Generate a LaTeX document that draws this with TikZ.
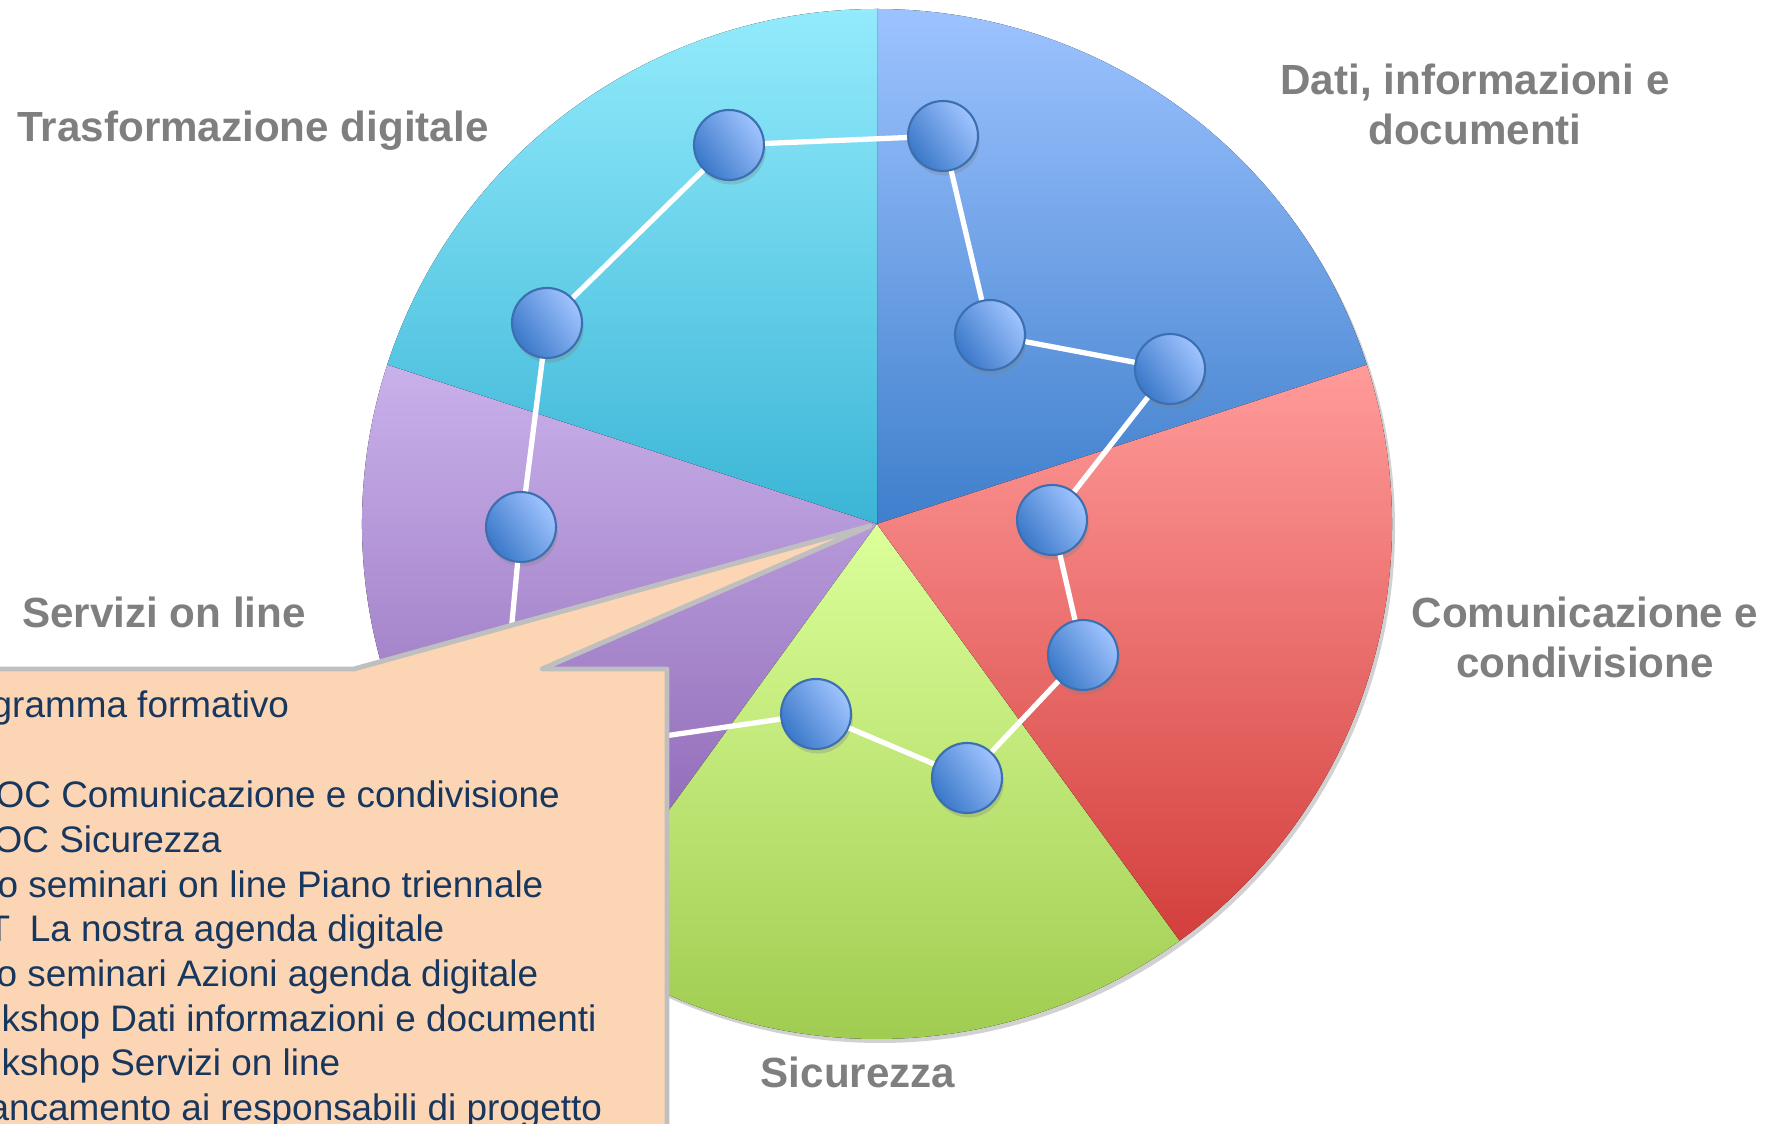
\documentclass[tikz,border=0pt]{standalone}
\usepackage{fontspec}
\setmainfont{Liberation Sans}
\usepackage{tikz}
\usetikzlibrary{shadows}

\definecolor{trasfTop}{HTML}{93EBFC}
\definecolor{trasfBot}{HTML}{3BB5D6}
\definecolor{datiTop}{HTML}{9DC3FF}
\definecolor{datiBot}{HTML}{3F7FCC}
\definecolor{comunTop}{HTML}{FF9B9A}
\definecolor{comunBot}{HTML}{D33F3C}
\definecolor{sicurTop}{HTML}{DCFF9A}
\definecolor{sicurBot}{HTML}{9CC94C}
\definecolor{servTop}{HTML}{C9B1EB}
\definecolor{servBot}{HTML}{845BAC}
\definecolor{knobTop}{HTML}{A0C4FF}
\definecolor{knobBot}{HTML}{3A78C8}
\definecolor{knobRim}{HTML}{3B6FB0}
\definecolor{bubbleFill}{HTML}{FCD5B5}
\definecolor{bubbleRim}{HTML}{BFBFBF}
\definecolor{bubbleText}{HTML}{17375E}
\definecolor{labelGrey}{HTML}{7F7F7F}

\begin{document}
\begin{tikzpicture}[
        knob/.style={circle, minimum size=0.70cm, inner sep=0, draw=knobRim, line width=0.6pt,
            top color=knobTop, bottom color=knobBot, shading angle=-55,
            drop shadow={shadow xshift=0.5pt, shadow yshift=-1.3pt, opacity=0.3}},
        link/.style={white, line width=1.5pt},
        bubble/.style={fill=bubbleFill, draw=bubbleRim, line width=1.4pt, line join=round}]
        \useasboundingbox (0,0) rectangle (17.77,-11.24);
        \clip (0,0) rectangle (17.77,-11.24);
        \coordinate (Centre) at (8.77,-5.24);
        \coordinate (Tip) at (8.70,-5.26);

        \fill[black, opacity=0.18] (8.80,-5.28) circle (5.15);
        \fill[top color=datiTop, bottom color=datiBot] (Centre) -- ++(18:5.15) arc[start angle=18, end angle=90, radius=5.15] -- cycle;
        \fill[top color=trasfTop, bottom color=trasfBot] (Centre) -- ++(90:5.15) arc[start angle=90, end angle=162, radius=5.15] -- cycle;
        \fill[top color=servTop, bottom color=servBot] (Centre) -- ++(162:5.15) arc[start angle=162, end angle=234, radius=5.15] -- cycle;
        \fill[top color=sicurTop, bottom color=sicurBot] (Centre) -- ++(234:5.15) arc[start angle=234, end angle=306, radius=5.15] -- cycle;
        \fill[top color=comunTop, bottom color=comunBot] (Centre) -- ++(306:5.15) arc[start angle=306, end angle=378, radius=5.15] -- cycle;

        \begin{scope}[every node/.style={knob}]
            \node (Trasf1) at (7.29,-1.45) {};
            \node (Dati1) at (9.43,-1.36) {};
            \node (Dati2) at (9.90,-3.35) {};
            \node (Dati3) at (11.70,-3.69) {};
            \node (Comun1) at (10.52,-5.20) {};
            \node (Comun2) at (10.83,-6.55) {};
            \node (Sicur1) at (9.67,-7.78) {};
            \node (Sicur2) at (8.16,-7.14) {};
            \node (Serv1) at (4.99,-7.60) {};
            \node (Serv2) at (5.21,-5.27) {};
            \node (Trasf2) at (5.47,-3.23) {};
        \end{scope}
        \draw[link] (Trasf1) -- (Dati1) -- (Dati2) -- (Dati3) -- (Comun1) -- (Comun2) -- (Sicur1) -- (Sicur2) -- (Serv1) -- (Serv2) -- (Trasf2) -- (Trasf1);

        \draw[bubble] (-0.5,-6.69) -- (3.54,-6.69) -- (Tip) -- (5.42,-6.69) -- (6.67,-6.69) -- (6.67,-11.6) -- (-0.5,-11.6) -- cycle;

        \begin{scope}[every node/.style={anchor=base west, inner sep=0, text=bubbleText, font=\fontsize{10.5}{12.7}\selectfont}]
            \node (Line1) at (-0.09,-7.175) {gramma formativo};
            \node (Line2) at (-0.05,-8.075) {OC Comunicazione e condivisione};
            \node (Line3) at (-0.07,-8.525) {OC Sicurezza};
            \node (Line4) at (-0.03,-8.975) {o seminari on line Piano triennale};
            \node (Line5) at (-0.13,-9.415) {T\hspace{5.6pt}La nostra agenda digitale};
            \node (Line6) at (-0.04,-9.865) {o seminari Azioni agenda digitale};
            \node (Line7) at (0.01,-10.315) {kshop Dati informazioni e documenti};
            \node (Line8) at (0.01,-10.755) {kshop Servizi on line};
            \node (Line9) at (-0.12,-11.205) {ancamento ai responsabili di progetto};
        \end{scope}

        \begin{scope}[every node/.style={inner sep=0, align=center, text=labelGrey, font=\bfseries\fontsize{12}{14.2}\selectfont}]
            \node[anchor=base] (TrasfLabel) at (2.53,-1.42) {Trasformazione digitale};
            \node (DatiLabel) at (14.75,-1.04) {Dati, informazioni e\\documenti};
            \node[anchor=base] (ServLabel) at (1.64,-6.28) {Servizi on line};
            \node (ComunLabel) at (15.85,-6.37) {Comunicazione e\\condivisione};
            \node[anchor=base] (SicurLabel) at (8.58,-10.88) {Sicurezza};
        \end{scope}
    \end{tikzpicture}
\end{document}
